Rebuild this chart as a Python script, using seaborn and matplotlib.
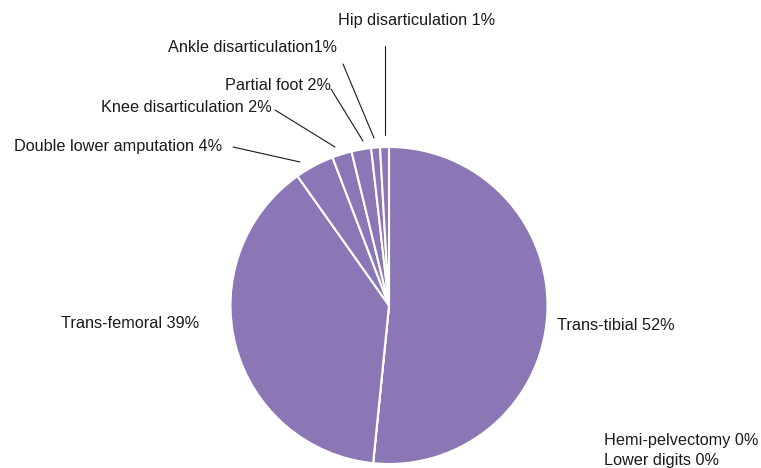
import matplotlib
matplotlib.use("Agg")
import matplotlib.pyplot as plt
import seaborn as sns

sns.set_theme(style="white")
plt.rcParams['font.family'] = ['Liberation Sans', 'DejaVu Sans']

categories = ["Trans-tibial", "Hemi-pelvectomy", "Lower digits", "Trans-femoral",
              "Double lower amputation", "Knee disarticulation", "Partial foot",
              "Ankle disarticulation", "Hip disarticulation"]
values = [51.6, 0.0, 0.0, 38.6, 4.0, 2.0, 2.0, 0.9, 0.9]
separators = [" ", " ", " ", " ", " ", " ", " ", "", " "]

W, H = 761, 468
fig = plt.figure(figsize=(W / 100, H / 100), dpi=100)
ax = fig.add_axes([0, 0, 1, 1])

color = "#8B77B5"
cx, cy, r = 389, 305.5, 158.5
wedges, _ = ax.pie(values, colors=[color] * len(values), startangle=-90,
                   counterclock=True, center=(cx, cy), radius=r,
                   wedgeprops=dict(edgecolor="white", linewidth=1.5),
                   frame=True)
ax.set_xlim(0, W)
ax.set_ylim(H, 0)
ax.set_aspect("equal")
ax.axis("off")

total = sum(values)
labels = [f"{c}{s}{round(v / total * 100):d}%" for c, s, v in zip(categories, separators, values)]

# label positions (pixels, top-left origin), alignment, leader line endpoints
layout = {
    "Trans-tibial": ((557, 326), "left", None),
    "Hemi-pelvectomy": ((604, 441), "left", None),
    "Lower digits": ((604, 460), "left", None),
    "Trans-femoral": ((199, 324), "right", None),
    "Double lower amputation": ((222, 146), "right", ((233, 147), (300, 162))),
    "Knee disarticulation": ((272, 108), "right", ((275, 110), (335, 147))),
    "Partial foot": ((331, 86), "right", ((331, 89), (363, 141))),
    "Ankle disarticulation": ((337, 48), "right", ((343, 64), (374, 138))),
    "Hip disarticulation": ((495, 20), "right", ((385, 46), (385, 135))),
}

for cat, lab in zip(categories, labels):
    (tx, ty), ha, line = layout[cat]
    ax.text(tx, ty, lab, ha=ha, va="center", fontsize=11.7, color="#1a1a1a")
    if line is not None:
        (x0, y0), (x1, y1) = line
        ax.plot([x0, x1], [y0, y1], color="#1a1a1a", linewidth=0.8)

fig.savefig("out.png", dpi=100, facecolor="white")
